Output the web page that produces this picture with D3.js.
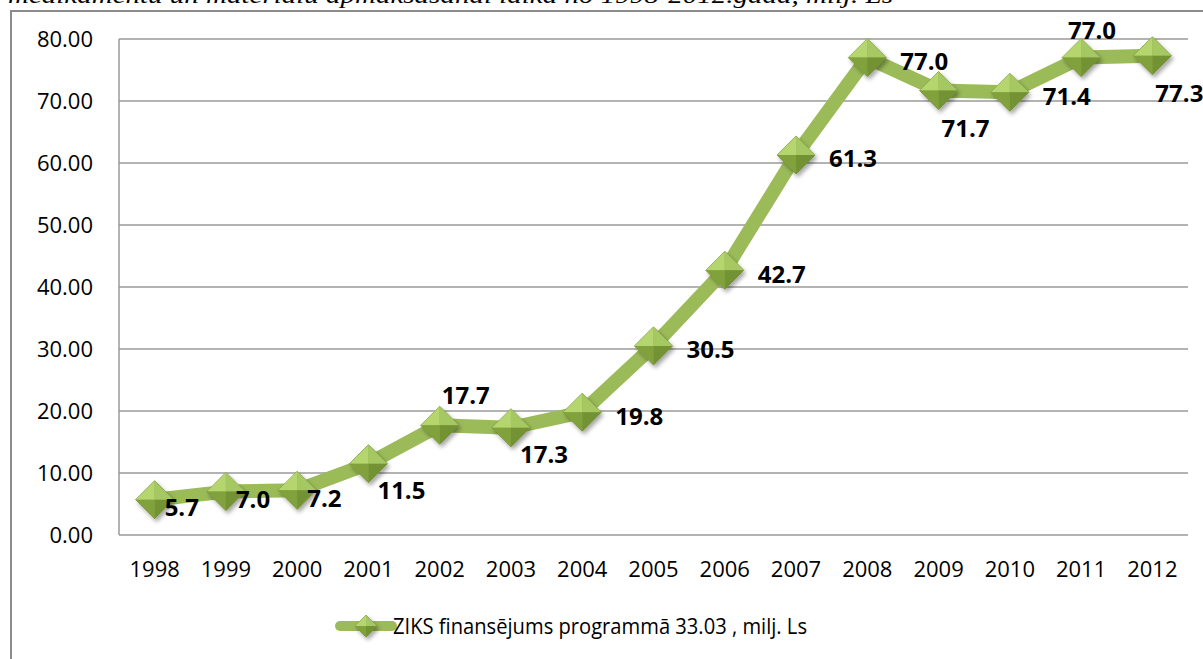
<!DOCTYPE html>
<html>
<head>
<meta charset="utf-8">
<script src="https://cdn.jsdelivr.net/npm/d3@7"></script>
<style>
  body { margin: 0; background: #fff; }
  svg { display: block; }
</style>
</head>
<body>
<script>
// chart data
var years = ["1998", "1999", "2000", "2001", "2002", "2003", "2004", "2005",
             "2006", "2007", "2008", "2009", "2010", "2011", "2012"];
var funding = [5.7, 7.0, 7.2, 11.5, 17.7, 17.3, 19.8, 30.5, 42.7, 61.3, 77.0, 71.7, 71.4, 77.0, 77.3];
var yTicks = [0, 10, 20, 30, 40, 50, 60, 70, 80];
var seriesName = "ZIKS finansējums programmā 33.03 , milj. Ls";
var titleText = "medikamentu un materiālu apmaksāšanai laikā no 1998-2012.gadā, milj. Ls";
// where each value label sits relative to its marker
var labelPlace = ["br", "br", "br", "bb", "t", "bb", "r", "r", "r", "r", "r", "b", "r", "tl", "b"];

var width = 1203, height = 659;
var margin = { left: 119, right: 15, top: 39, bottom: 124 };

var svg = d3.select("body").append("svg")
    .attr("width", width)
    .attr("height", height);

// drop shadow for the diamond markers
var defs = svg.append("defs");
var f = defs.append("filter").attr("id", "shadow").attr("x", "-50%").attr("y", "-50%")
    .attr("width", "200%").attr("height", "200%");
f.append("feDropShadow").attr("dx", 2).attr("dy", 3).attr("stdDeviation", 2)
    .attr("flood-color", "#000").attr("flood-opacity", 0.35);

// cut-off title above the frame
svg.append("text")
    .attr("x", 8).attr("y", 3)
    .attr("font-family", "Liberation Serif")
    .attr("font-style", "italic")
    .attr("font-size", 24)
    .attr("textLength", 885)
    .attr("lengthAdjust", "spacingAndGlyphs")
    .attr("fill", "#000")
    .text(titleText);

// outer chart frame (runs off the page to the right and bottom)
svg.append("rect")
    .attr("x", 11).attr("y", 11)
    .attr("width", 1300).attr("height", 700)
    .attr("fill", "none")
    .attr("stroke", "#8c8c8c")
    .attr("stroke-width", 2);

var x = d3.scaleBand()
    .domain(years)
    .range([margin.left, width - margin.right]);

var y = d3.scaleLinear()
    .domain([0, 80])
    .range([height - margin.bottom, margin.top]);

// gridlines
svg.append("g")
    .selectAll("line")
    .data(yTicks)
    .enter().append("line")
    .attr("x1", margin.left)
    .attr("x2", width - margin.right)
    .attr("y1", function (d) { return y(d); })
    .attr("y2", function (d) { return y(d); })
    .attr("stroke", "#9a9a9a")
    .attr("stroke-width", 1.5);

// vertical axis line
svg.append("line")
    .attr("x1", margin.left).attr("x2", margin.left)
    .attr("y1", y(80)).attr("y2", y(0))
    .attr("stroke", "#9a9a9a").attr("stroke-width", 1.5);

// y tick labels
svg.append("g")
    .selectAll("text")
    .data(yTicks)
    .enter().append("text")
    .attr("x", 93)
    .attr("y", function (d) { return y(d); })
    .attr("dy", "0.35em")
    .attr("text-anchor", "end")
    .attr("font-family", "Open Sans")
    .attr("font-size", 22)
    .attr("fill", "#000")
    .text(function (d) { return d3.format(".2f")(d); });

// x tick labels
svg.append("g")
    .selectAll("text")
    .data(years)
    .enter().append("text")
    .attr("x", function (d) { return x(d) + x.bandwidth() / 2; })
    .attr("y", 569)
    .attr("dy", "0.35em")
    .attr("text-anchor", "middle")
    .attr("font-family", "Open Sans")
    .attr("font-size", 22)
    .attr("fill", "#000")
    .text(function (d) { return d; });

var points = years.map(function (d, i) {
    return { year: d, value: funding[i], place: labelPlace[i] };
});

var line = d3.line()
    .x(function (d) { return x(d.year) + x.bandwidth() / 2; })
    .y(function (d) { return y(d.value); });

svg.append("path")
    .datum(points)
    .attr("d", line)
    .attr("fill", "none")
    .attr("stroke", "#9bbb59")
    .attr("stroke-width", 14)
    .attr("stroke-linejoin", "round");

// diamond marker with four shaded facets
function drawDiamond(g, r) {
    var body = g.append("g").attr("filter", "url(#shadow)");
    body.append("path").attr("d", "M0," + (-r) + "L" + r + ",0L0," + r + "L" + (-r) + ",0Z")
        .attr("fill", "#8eb04a").attr("stroke", "#6f8c33").attr("stroke-width", 0.8);
    g.append("path").attr("d", "M0," + (-r) + "L0,0L" + (-r) + ",0Z").attr("fill", "#b5d56f");
    g.append("path").attr("d", "M0," + (-r) + "L" + r + ",0L0,0Z").attr("fill", "#a6c862");
    g.append("path").attr("d", "M" + (-r) + ",0L0,0L0," + r + "Z").attr("fill", "#80a13b");
    g.append("path").attr("d", "M0,0L" + r + ",0L0," + r + "Z").attr("fill", "#739233");
}

svg.append("g")
    .selectAll("g")
    .data(points)
    .enter().append("g")
    .attr("transform", function (d) {
        return "translate(" + (x(d.year) + x.bandwidth() / 2) + "," + y(d.value) + ")";
    })
    .each(function () { drawDiamond(d3.select(this), 19); });

// value labels
var offsets = {
    r:  { dx: 33, dy: 4, anchor: "start" },
    br: { dx: 10, dy: 8, anchor: "start" },
    bb: { dx: 9, dy: 27, anchor: "start" },
    t:  { dx: 26, dy: -30, anchor: "middle" },
    tl: { dx: 11, dy: -27, anchor: "middle" },
    b:  { dx: 27, dy: 38, anchor: "middle" }
};

svg.append("g")
    .selectAll("text")
    .data(points)
    .enter().append("text")
    .attr("x", function (d) { return x(d.year) + x.bandwidth() / 2 + offsets[d.place].dx; })
    .attr("y", function (d) { return y(d.value) + offsets[d.place].dy; })
    .attr("dy", "0.35em")
    .attr("text-anchor", function (d) { return offsets[d.place].anchor; })
    .attr("font-family", "Open Sans")
    .attr("font-weight", "bold")
    .attr("font-size", 24)
    .attr("fill", "#000")
    .text(function (d) { return d3.format(".1f")(d.value); });

// legend
var legend = svg.append("g").attr("transform", "translate(366,626)");
legend.append("line")
    .attr("x1", -26).attr("x2", 26)
    .attr("stroke", "#9bbb59")
    .attr("stroke-width", 10)
    .attr("stroke-linecap", "round");
drawDiamond(legend, 11);
legend.append("text")
    .attr("x", 27)
    .attr("dy", "0.35em")
    .attr("font-family", "Open Sans")
    .attr("font-size", 22)
    .attr("textLength", 414)
    .attr("lengthAdjust", "spacingAndGlyphs")
    .attr("fill", "#000")
    .text(seriesName);
</script>
</body>
</html>
